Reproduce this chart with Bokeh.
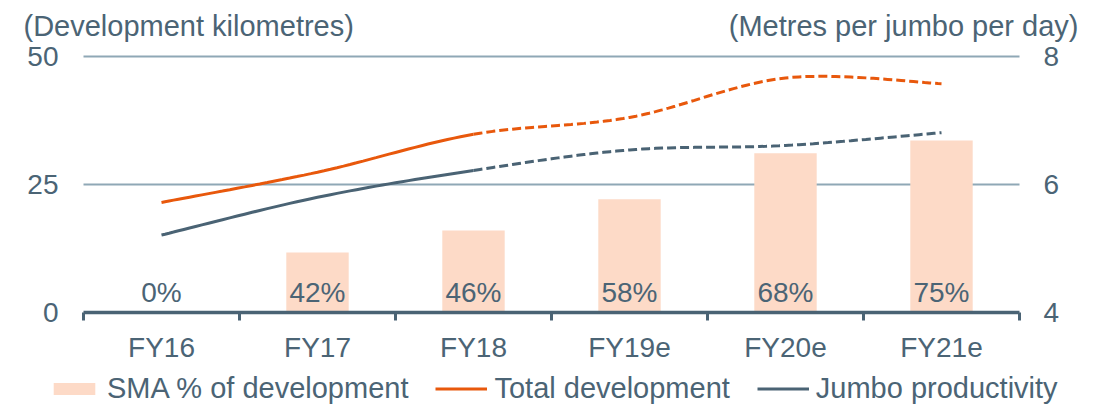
from bokeh.plotting import figure
from bokeh.models import Range1d, Legend, LegendItem, Label
from bokeh.embed import file_html
from bokeh.resources import INLINE
from bokeh.core.properties import value

# ---- data ----
categories = ["FY16", "FY17", "FY18", "FY19e", "FY20e", "FY21e"]
sma_km = [0, 11.7, 16.0, 22.1, 31.1, 33.6]          # SMA development, km (bars)
sma_pct_labels = ["0%", "42%", "46%", "58%", "68%", "75%"]
total_dev = [21.5, 27.4, 34.8, 38.1, 45.8, 44.7]   # km, left axis
jumbo = [5.21, 5.80, 6.22, 6.54, 6.61, 6.81]       # m/jumbo/day, right axis
left_ticks = [0, 25, 50]
right_ticks = [4, 6, 8]
left_tick_labels = ["0", "25", "50"]
right_tick_labels = ["4", "6", "8"]
n_actual = 3   # FY16..FY18 actual (solid), rest estimates (dashed)

FONT = "Liberation Sans"
TXT = "#4B6475"
ORANGE = "#E8580C"
SLATE = "#4A6374"
BAR = "#FDDAC7"
GRID = "#8FA8B6"
FS = "28px"
FS_T = "29px"

W, H = 1104, 404
# plot area geometry (pixels): category block from 83 to 1019, value 0 at y=312, 50 at y=56
LEFT, RIGHT, ZERO_Y, TOP_Y = 83, 1019, 312, 56
TITLE_Y = 25   # vertical centre of the axis titles


def smooth(xs, ys, n=24):
    """Catmull-Rom style smoothing for drawing a curved line through the points."""
    px, py = [], []
    m = len(xs)
    for i in range(m - 1):
        x0, y0 = (xs[i - 1], ys[i - 1]) if i > 0 else (xs[i], ys[i])
        x1, y1 = xs[i], ys[i]
        x2, y2 = xs[i + 1], ys[i + 1]
        x3, y3 = (xs[i + 2], ys[i + 2]) if i + 2 < m else (xs[i + 1], ys[i + 1])
        c1x, c1y = x1 + (x2 - x0) / 6, y1 + (y2 - y0) / 6
        c2x, c2y = x2 - (x3 - x1) / 6, y2 - (y3 - y1) / 6
        for k in range(n + (1 if i == m - 2 else 0)):
            t = k / n
            a, b, c, d = (1 - t) ** 3, 3 * (1 - t) ** 2 * t, 3 * (1 - t) * t ** 2, t ** 3
            px.append(a * x1 + b * c1x + c * c2x + d * x2)
            py.append(a * y1 + b * c1y + c * c2y + d * y2)
    return px, py, n


ncat = len(categories)
xs = [i + 0.5 for i in range(ncat)]   # category centres

# ranges chosen so that the frame covers the whole canvas
pxx = (RIGHT - LEFT) / ncat
pxy = (ZERO_Y - TOP_Y) / (left_ticks[-1] - left_ticks[0])
pxr = (ZERO_Y - TOP_Y) / (right_ticks[-1] - right_ticks[0])
x_range = Range1d(-LEFT / pxx, (W - LEFT) / pxx)
y_range = Range1d(-(H - ZERO_Y) / pxy, ZERO_Y / pxy)
r_range = Range1d(right_ticks[0] - (H - ZERO_Y) / pxr, right_ticks[0] + ZERO_Y / pxr)

p = figure(x_range=x_range, y_range=y_range, width=W, height=H,
           output_backend="svg", toolbar_location=None,
           x_axis_location=None, y_axis_location=None,
           min_border_left=0, min_border_right=0, min_border_top=0, min_border_bottom=0)
p.outline_line_color = None
p.background_fill_color = "white"
p.border_fill_color = "white"
p.grid.visible = False
p.extra_y_ranges = {"r": r_range}

# gridlines (25, 50)
gt = left_ticks[1:]
p.segment(x0=[0] * len(gt), x1=[ncat] * len(gt), y0=gt, y1=gt, line_color=GRID, line_width=2)

# bars
bars = p.vbar(x=xs, top=sma_km, width=0.4, fill_color=BAR, line_color=None)

# category axis: line and boundary ticks
p.segment(x0=[0], x1=[ncat], y0=[0], y1=[0], line_color=SLATE, line_width=3.5)
bx = list(range(ncat + 1))
p.segment(x0=bx, x1=bx, y0=[0] * len(bx), y1=[-8 / pxy] * len(bx), line_color=SLATE, line_width=3)

# tick labels
p.text(x=[0] * len(left_ticks), y=left_ticks, text=left_tick_labels, x_offset=-25,
       text_align="right", text_baseline="middle",
       text_font=value(FONT), text_font_size=FS, text_color=TXT)
p.text(x=[ncat] * len(right_ticks), y=right_ticks, text=right_tick_labels, x_offset=24,
       text_align="left", text_baseline="middle", y_range_name="r",
       text_font=value(FONT), text_font_size=FS, text_color=TXT)
p.text(x=xs, y=[0] * ncat, text=categories, y_offset=35,
       text_align="center", text_baseline="middle",
       text_font=value(FONT), text_font_size=FS, text_color=TXT)

# value labels
p.text(x=xs, y=[0] * ncat, text=sma_pct_labels,
       text_align="center", text_baseline="middle", y_offset=-20,
       text_font=value(FONT), text_font_size=FS, text_color=TXT)

# lines
tx, ty, n = smooth(xs, total_dev)
jx, jy, _ = smooth(xs, jumbo)
cut = (n_actual - 1) * n + 1
r_tot = p.line(tx[:cut], ty[:cut], line_color=ORANGE, line_width=3)
p.line(tx[cut - 1:], ty[cut - 1:], line_color=ORANGE, line_width=3, line_dash="9 4")
r_jum = p.line(jx[:cut], jy[:cut], line_color=SLATE, line_width=3, y_range_name="r")
p.line(jx[cut - 1:], jy[cut - 1:], line_color=SLATE, line_width=3, line_dash="9 4", y_range_name="r")

legend = Legend(items=[LegendItem(label="SMA % of development", renderers=[bars]),
                       LegendItem(label="Total development", renderers=[r_tot]),
                       LegendItem(label="Jumbo productivity", renderers=[r_jum])],
                orientation="horizontal", location=(48, -1),
                glyph_width=52, glyph_height=15, label_standoff=7, spacing=27,
                padding=0, margin=0, border_line_color=None, background_fill_alpha=0,
                label_text_font=FONT, label_text_font_size=FS_T, label_text_color=TXT)
p.add_layout(legend, "center")

p.add_layout(Label(x=0, y=(ZERO_Y - TITLE_Y) / pxy, x_offset=-60, text="(Development kilometres)",
                   text_font=FONT, text_font_size=FS_T, text_color=TXT, text_baseline="middle"))
p.add_layout(Label(x=ncat, y=(ZERO_Y - TITLE_Y) / pxy, x_offset=59, text="(Metres per jumbo per day)",
                   text_font=FONT, text_font_size=FS_T, text_color=TXT, text_baseline="middle",
                   text_align="right"))

open("out.html", "w").write(file_html(p, INLINE))
